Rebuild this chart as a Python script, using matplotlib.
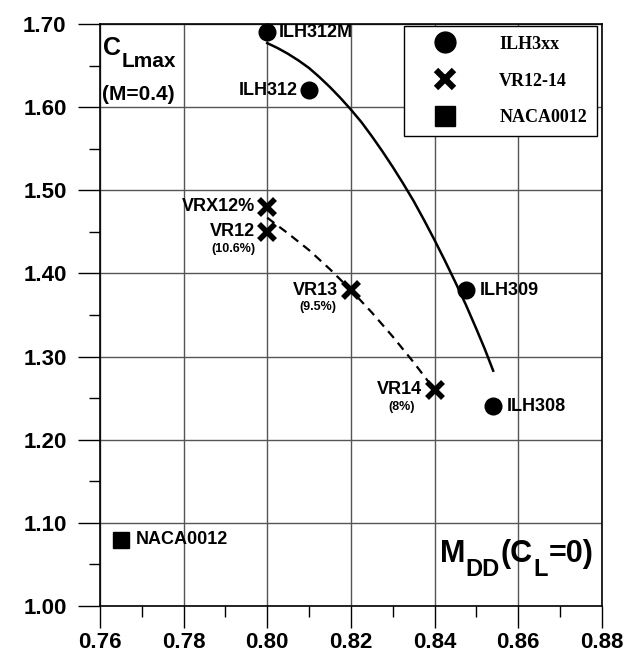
import numpy as np
import matplotlib.pyplot as plt
from matplotlib.lines import Line2D

plt.rcParams['font.family'] = ['Liberation Sans', 'DejaVu Sans']
plt.rcParams['font.weight'] = 'bold'

# ILH3xx airfoils
ilh_names = ['ILH312M', 'ILH312', 'ILH309', 'ILH308']
ilh_mdd = [0.800, 0.810, 0.8475, 0.854]
ilh_clmax = [1.69, 1.62, 1.38, 1.24]

# VR12-14 airfoils
vr_names = ['VRX12%', 'VR12', 'VR13', 'VR14']
vr_thick = ['', '(10.6%)', '(9.5%)', '(8%)']
vr_mdd = [0.80, 0.80, 0.82, 0.84]
vr_clmax = [1.48, 1.45, 1.38, 1.26]

# NACA0012
naca_mdd = [0.765]
naca_clmax = [1.08]

# trend lines
ilh_trend_x = [0.800, 0.8025, 0.805, 0.8075, 0.810, 0.8125, 0.815, 0.8175, 0.820, 0.8225, 0.825,
               0.8275, 0.830, 0.8325, 0.835, 0.8375, 0.840, 0.8425, 0.845, 0.8475, 0.850, 0.852, 0.854]
ilh_trend_y = [1.677, 1.671, 1.664, 1.656, 1.647, 1.636, 1.624, 1.611, 1.597, 1.582, 1.565,
               1.547, 1.528, 1.508, 1.487, 1.464, 1.440, 1.415, 1.389, 1.362, 1.333, 1.309, 1.283]
vr_trend_x = [0.800, 0.805, 0.810, 0.815, 0.820, 0.825, 0.830, 0.835, 0.840]
vr_trend_y = [1.467, 1.448, 1.428, 1.405, 1.380, 1.353, 1.324, 1.293, 1.260]

x_ticks = [0.76, 0.78, 0.80, 0.82, 0.84, 0.86, 0.88]
y_ticks = [1.00, 1.10, 1.20, 1.30, 1.40, 1.50, 1.60, 1.70]

fig = plt.figure(figsize=(6.36, 6.64), dpi=100)
ax = fig.add_axes([0.157, 0.0873, 0.7895, 0.8766])

ax.plot(ilh_trend_x, ilh_trend_y, color='k', lw=1.8)
ax.plot(vr_trend_x, vr_trend_y, color='k', lw=1.6, ls='--', dashes=(4, 2.8))
ax.plot(ilh_mdd, ilh_clmax, 'o', color='k', ms=12, ls='none', clip_on=False, zorder=5)
ax.plot(vr_mdd, vr_clmax, 'x', color='k', ms=11, mew=4, ls='none', clip_on=False, zorder=5)
ax.plot(naca_mdd, naca_clmax, 's', color='k', ms=11, ls='none', clip_on=False, zorder=5)

# point labels
ilh_off = [(8, 0, 'left'), (-8, 0, 'right'), (10, 0, 'left'), (10, 0, 'left')]
for name, x, y, (dx, dy, ha) in zip(ilh_names, ilh_mdd, ilh_clmax, ilh_off):
    ax.annotate(name, (x, y), xytext=(dx, dy), textcoords='offset points',
                ha=ha, va='center', fontsize=13)

for name, sub, x, y in zip(vr_names, vr_thick, vr_mdd, vr_clmax):
    ax.annotate(name, (x, y), xytext=(-9, 0), textcoords='offset points',
                ha='right', va='center', fontsize=13)
    if sub:
        ax.annotate(sub, (x, y), xytext=(-24, -12), textcoords='offset points',
                    ha='center', va='center', fontsize=9)

ax.annotate('NACA0012', (naca_mdd[0], naca_clmax[0]), xytext=(11, 0),
            textcoords='offset points', ha='left', va='center', fontsize=13)


def chain(x, y, pieces):
    t = ax.text(x, y, pieces[0][0], fontsize=pieces[0][1], transform=ax.transAxes,
                va='baseline', ha='left')
    for s, size, dy in pieces[1:]:
        t = ax.annotate(s, xy=(1, y), xycoords=(t, 'axes fraction'), xytext=(0.5, dy),
                        textcoords='offset points', fontsize=size, va='baseline', ha='left')


chain(0.006, 0.947, [('C', 18, 0), ('Lmax', 15, -9)])
ax.text(0.004, 0.869, '(M=0.4)', fontsize=15, transform=ax.transAxes, va='baseline')
chain(0.677, 0.075, [('M', 22, 0), ('DD', 17, -10), ('(C', 22, 0), ('L', 17, -10), ('=0)', 22, 0)])

ax.set_xlim(0.76, 0.88)
ax.set_ylim(1.0, 1.7)
ax.set_xticks(x_ticks)
ax.set_xticklabels(['%.2f' % v for v in x_ticks])
ax.set_yticks(y_ticks)
ax.set_yticklabels(['%.2f' % v for v in y_ticks])
ax.set_xticks(np.arange(0.77, 0.88, 0.02), minor=True)
ax.set_yticks(np.arange(1.05, 1.7, 0.1), minor=True)
ax.tick_params(which='major', direction='out', length=16, width=1, labelsize=16)
ax.tick_params(which='minor', direction='out', length=8, width=1)
ax.tick_params(axis='x', which='major', pad=3)
ax.tick_params(axis='y', which='major', pad=8)
ax.grid(which='major', color='#555555', lw=1)
for sp in ax.spines.values():
    sp.set_linewidth(1.2)

handles = [Line2D([], [], marker='o', color='k', ls='none', ms=15),
           Line2D([], [], marker='x', color='k', ls='none', ms=13, mew=4.5),
           Line2D([], [], marker='s', color='k', ls='none', ms=14)]
ax.legend(handles, ['ILH3xx', 'VR12-14', 'NACA0012'], loc='upper right',
          bbox_to_anchor=(0.990, 0.997), borderaxespad=0, fancybox=False,
          edgecolor='k', framealpha=1, prop=dict(family='Liberation Serif', weight='bold', size=13),
          handlelength=3.4, handletextpad=1.3, borderpad=0.55, labelspacing=1.1)

fig.savefig('out.png', dpi=100)
